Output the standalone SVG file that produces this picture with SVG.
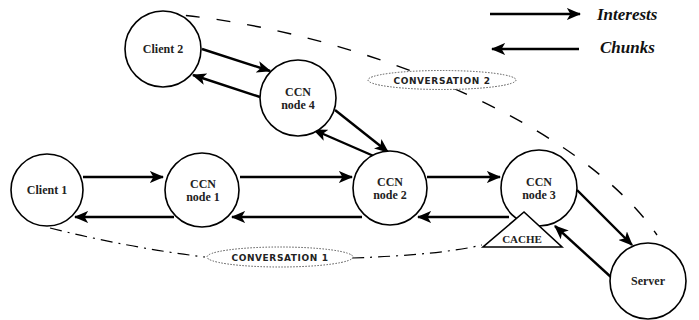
<svg xmlns="http://www.w3.org/2000/svg" width="699" height="320" viewBox="0 0 699 320">
  <style>
    .node circle { fill: #fff; stroke: #000; stroke-width: 1.6; }
    .lbl { font-family: 'Liberation Serif', 'Times New Roman', serif; font-size: 12px; font-weight: bold; text-anchor: middle; fill: #222; }
    .conn line { stroke: #000; stroke-width: 2.4; marker-end: url(#arrow); }
    .conv { fill: #fff; stroke: #555; stroke-width: 1; stroke-dasharray: 1.5 1.5; }
    .convtxt { font-family: 'DejaVu Sans', sans-serif; font-size: 9px; font-weight: bold; letter-spacing: 0.6px; text-anchor: middle; fill: #222; }
    .legend { font-family: 'Liberation Serif', 'Times New Roman', serif; font-size: 17px; font-weight: bold; font-style: italic; fill: #111; }
  </style>
  <defs>
    <marker id="arrow" viewBox="0 0 12 10" refX="11" refY="5" markerWidth="6" markerHeight="5" orient="auto" markerUnits="strokeWidth">
      <path d="M0,0 L12,5 L0,10 L3,5 z" fill="#000"/>
    </marker>
  </defs>
  <rect width="699" height="320" fill="#fff"/>

  <!-- conversation paths -->
  <g id="conversations" fill="none" stroke="#000">
    <path d="M155,13 C320,22 570,110 657,235" stroke-width="1.4" stroke-dasharray="14 17"/>
    <path d="M50,228 Q130,248 205,257" stroke-width="1.2" stroke-dasharray="12 6 2 6"/>
    <path d="M352,258 Q440,255 482,245" stroke-width="1.2" stroke-dasharray="12 6 2 6"/>
  </g>

  <!-- conversation tags -->
  <g id="conv1">
    <ellipse class="conv" cx="280" cy="257" rx="73" ry="10"/>
    <text class="convtxt" x="280" y="260.5">CONVERSATION 1</text>
  </g>
  <g id="conv2">
    <ellipse class="conv" cx="442" cy="80" rx="74" ry="9.5"/>
    <text class="convtxt" x="442" y="83.5">CONVERSATION 2</text>
  </g>

  <!-- connectors -->
  <g id="connectors" class="conn">
    <line x1="83" y1="177" x2="163" y2="177"/>
    <line x1="174" y1="217" x2="75" y2="217"/>
    <line x1="240" y1="177" x2="352" y2="177"/>
    <line x1="362" y1="217" x2="232" y2="217"/>
    <line x1="427" y1="177" x2="500" y2="177"/>
    <line x1="509" y1="217" x2="418" y2="217"/>
    <line x1="202" y1="49" x2="270" y2="71"/>
    <line x1="260" y1="97" x2="193" y2="75"/>
    <line x1="335" y1="110" x2="388" y2="152"/>
    <line x1="376" y1="157" x2="314" y2="130"/>
    <line x1="577" y1="190" x2="632" y2="245"/>
    <line x1="612" y1="278" x2="555" y2="226"/>
  </g>

  <!-- nodes -->
  <g id="client1" class="node">
    <circle cx="47" cy="190" r="36"/>
    <text class="lbl" x="47" y="194">Client 1</text>
  </g>
  <g id="client2" class="node">
    <circle cx="163" cy="49" r="38"/>
    <text class="lbl" x="163" y="53">Client 2</text>
  </g>
  <g id="node1" class="node">
    <circle cx="202" cy="190" r="37"/>
    <text class="lbl" x="203" y="188">CCN</text>
    <text class="lbl" x="203" y="201">node 1</text>
  </g>
  <g id="node2" class="node">
    <circle cx="390" cy="188" r="37"/>
    <text class="lbl" x="390" y="186">CCN</text>
    <text class="lbl" x="390" y="199">node 2</text>
  </g>
  <g id="node3" class="node">
    <circle cx="539" cy="188" r="38"/>
    <text class="lbl" x="539" y="186">CCN</text>
    <text class="lbl" x="539" y="199">node 3</text>
  </g>
  <g id="node4" class="node">
    <circle cx="298" cy="98" r="38"/>
    <text class="lbl" x="298" y="96">CCN</text>
    <text class="lbl" x="298" y="109">node 4</text>
  </g>
  <g id="server" class="node">
    <circle cx="648" cy="281" r="38"/>
    <text class="lbl" x="648" y="285">Server</text>
  </g>
  <g id="cache">
    <polygon points="524,212 483,247 562,247" fill="#fff" stroke="#000" stroke-width="1.6"/>
    <text class="lbl" x="522" y="243" style="font-size:11px">CACHE</text>
  </g>

  <!-- legend -->
  <g id="legend" class="conn">
    <line x1="490" y1="14" x2="580" y2="14"/>
    <line x1="579" y1="49" x2="492" y2="49"/>
  </g>
  <text class="legend" x="597" y="20">Interests</text>
  <text class="legend" x="600" y="53">Chunks</text>
</svg>
